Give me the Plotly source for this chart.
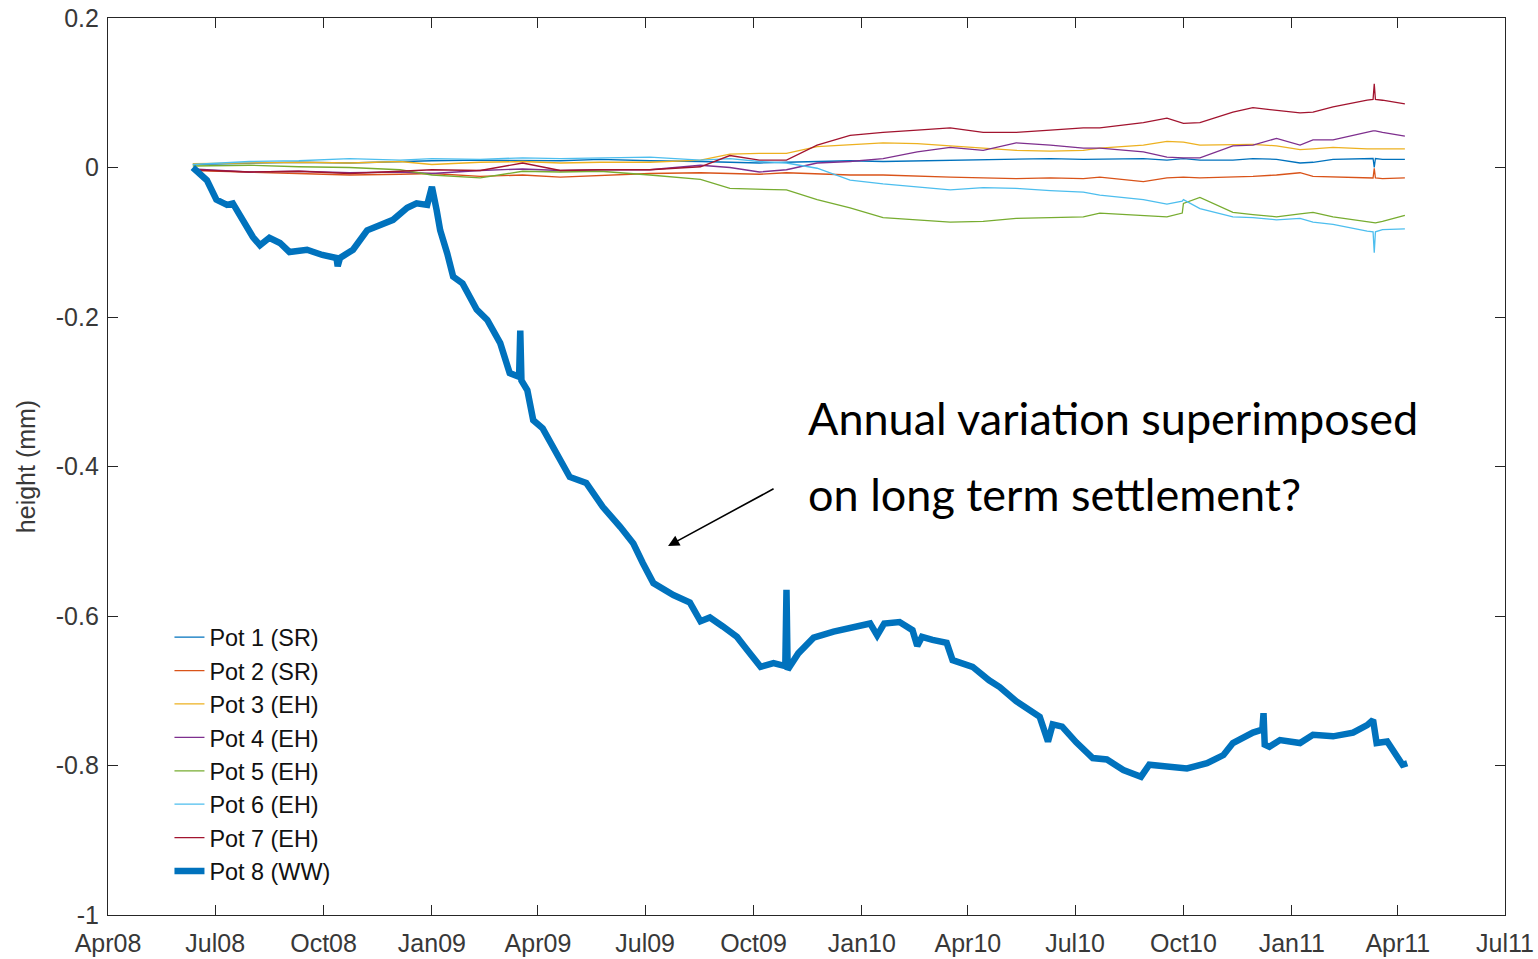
import plotly.graph_objects as go

# Sample dates for the seven reference pots (1-7)
pot_dates = [
    "2008-06-12", "2008-07-30", "2008-09-10", "2008-10-23", "2008-12-05",
    "2009-01-01", "2009-02-11", "2009-03-19", "2009-04-20", "2009-05-24",
    "2009-07-05", "2009-08-17", "2009-09-11", "2009-10-06", "2009-10-29",
    "2009-11-24", "2009-12-22", "2010-01-19", "2010-02-17", "2010-03-17",
    "2010-04-14", "2010-05-12", "2010-06-10", "2010-07-08", "2010-07-22",
    "2010-08-28", "2010-09-17", "2010-09-30", "2010-10-01", "2010-10-15",
    "2010-11-12", "2010-11-29", "2010-12-19", "2011-01-08", "2011-01-19",
    "2011-02-05", "2011-03-06", "2011-03-11", "2011-03-12", "2011-03-13",
    "2011-03-19", "2011-04-07",
]

pot1 = [0.004, 0.006, 0.007, 0.006, 0.008, 0.009, 0.010, 0.010, 0.009, 0.011,
        0.009, 0.008, 0.007, 0.006, 0.007, 0.008, 0.009, 0.008, 0.009, 0.010,
        0.010, 0.011, 0.012, 0.011, 0.011, 0.012, 0.010, 0.012, 0.012, 0.010,
        0.010, 0.012, 0.011, 0.006, 0.007, 0.011, 0.012, 0.012, 0.000, 0.012,
        0.011, 0.011]
pot2 = [-0.004, -0.006, -0.008, -0.010, -0.009, -0.008, -0.012, -0.010, -0.013, -0.011,
        -0.008, -0.007, -0.008, -0.009, -0.007, -0.008, -0.010, -0.010, -0.012, -0.013,
        -0.014, -0.015, -0.014, -0.015, -0.013, -0.019, -0.014, -0.013, -0.013, -0.014,
        -0.013, -0.012, -0.010, -0.007, -0.012, -0.013, -0.014, -0.014, -0.001, -0.014,
        -0.015, -0.014]
pot3 = [0.005, 0.006, 0.007, 0.006, 0.008, 0.004, 0.007, 0.008, 0.006, 0.007,
        0.007, 0.010, 0.018, 0.019, 0.019, 0.028, 0.031, 0.033, 0.032, 0.029,
        0.027, 0.023, 0.022, 0.023, 0.026, 0.030, 0.035, 0.034, 0.034, 0.030,
        0.030, 0.031, 0.029, 0.024, 0.025, 0.027, 0.025, 0.025, 0.025, 0.025,
        0.024, 0.025]
pot4 = [-0.002, -0.006, -0.005, -0.007, -0.006, -0.008, -0.004, -0.002, -0.004, -0.003,
        -0.003, 0.003, 0.000, -0.006, -0.003, 0.006, 0.008, 0.012, 0.021, 0.027,
        0.023, 0.033, 0.030, 0.026, 0.026, 0.021, 0.014, 0.013, 0.013, 0.013,
        0.029, 0.030, 0.039, 0.030, 0.037, 0.037, 0.048, 0.049, 0.049, 0.049,
        0.047, 0.042]
pot5 = [0.002, 0.003, 0.001, 0.000, -0.003, -0.010, -0.014, -0.005, -0.006, -0.005,
        -0.010, -0.016, -0.028, -0.029, -0.030, -0.043, -0.054, -0.067, -0.070, -0.073,
        -0.072, -0.068, -0.067, -0.066, -0.061, -0.064, -0.066, -0.061, -0.048, -0.040,
        -0.060, -0.063, -0.066, -0.062, -0.060, -0.066, -0.072, -0.074, -0.074, -0.074,
        -0.072, -0.064]
pot6 = [0.004, 0.008, 0.009, 0.012, 0.010, 0.012, 0.011, 0.013, 0.012, 0.013,
        0.014, 0.010, 0.012, 0.008, 0.006, -0.001, -0.017, -0.022, -0.026, -0.030,
        -0.027, -0.028, -0.031, -0.033, -0.037, -0.043, -0.049, -0.045, -0.043, -0.055,
        -0.066, -0.067, -0.070, -0.068, -0.073, -0.076, -0.085, -0.086, -0.114, -0.086,
        -0.083, -0.082]
pot7 = [-0.003, -0.006, -0.005, -0.008, -0.005, -0.003, -0.004, 0.006, -0.004, -0.003,
        -0.003, 0.001, 0.016, 0.010, 0.010, 0.030, 0.043, 0.047, 0.050, 0.053,
        0.047, 0.047, 0.050, 0.053, 0.053, 0.060, 0.066, 0.060, 0.059, 0.060,
        0.074, 0.080, 0.077, 0.073, 0.074, 0.081, 0.090, 0.091, 0.112, 0.091,
        0.090, 0.085]

# Pot 8 (WW) record
pot8_dates = [
    "2008-06-12", "2008-06-24", "2008-07-02", "2008-07-11", "2008-07-16",
    "2008-07-24", "2008-08-02", "2008-08-08", "2008-08-16", "2008-08-25",
    "2008-09-02", "2008-09-17", "2008-09-30", "2008-10-12", "2008-10-13",
    "2008-10-15", "2008-10-26", "2008-11-07", "2008-11-18", "2008-11-29",
    "2008-12-11", "2008-12-19", "2008-12-28", "2009-01-01", "2009-01-05",
    "2009-01-08", "2009-01-14", "2009-01-19", "2009-01-27", "2009-02-08",
    "2009-02-17", "2009-02-28", "2009-03-08", "2009-03-16", "2009-03-17",
    "2009-03-18", "2009-03-23", "2009-03-28", "2009-04-05", "2009-04-17",
    "2009-04-28", "2009-05-12", "2009-05-26", "2009-06-10", "2009-06-21",
    "2009-06-29", "2009-07-08", "2009-07-25", "2009-08-08", "2009-08-17",
    "2009-08-25", "2009-09-05", "2009-09-17", "2009-09-26", "2009-10-07",
    "2009-10-18", "2009-10-28", "2009-10-29", "2009-10-30", "2009-11-08",
    "2009-11-21", "2009-12-08", "2009-12-25", "2010-01-08", "2010-01-14",
    "2010-01-20", "2010-02-02", "2010-02-13", "2010-02-17", "2010-02-21",
    "2010-03-02", "2010-03-14", "2010-03-19", "2010-04-05", "2010-04-19",
    "2010-04-28", "2010-05-12", "2010-06-01", "2010-06-08", "2010-06-12",
    "2010-06-20", "2010-07-02", "2010-07-16", "2010-07-28", "2010-08-11",
    "2010-08-26", "2010-09-02", "2010-09-18", "2010-10-04", "2010-10-21",
    "2010-11-04", "2010-11-12", "2010-11-29", "2010-12-07", "2010-12-08",
    "2010-12-09", "2010-12-13", "2010-12-22", "2011-01-08", "2011-01-19",
    "2011-02-05", "2011-02-22", "2011-03-06", "2011-03-11", "2011-03-14",
    "2011-03-23", "2011-03-31", "2011-04-05", "2011-04-09",
]
pot8 = [0.000, -0.017, -0.043, -0.050, -0.048,
        -0.070, -0.093, -0.104, -0.094, -0.101,
        -0.113, -0.110, -0.117, -0.121, -0.132,
        -0.121, -0.110, -0.084, -0.077, -0.070,
        -0.054, -0.048, -0.050, -0.026, -0.057,
        -0.084, -0.115, -0.146, -0.155, -0.190,
        -0.204, -0.235, -0.275, -0.280, -0.218,
        -0.285, -0.298, -0.338, -0.349, -0.382,
        -0.414, -0.422, -0.454, -0.481, -0.503,
        -0.529, -0.556, -0.572, -0.582, -0.607,
        -0.602, -0.614, -0.628, -0.646, -0.668,
        -0.663, -0.667, -0.565, -0.672, -0.650,
        -0.629, -0.621, -0.616, -0.610, -0.626,
        -0.610, -0.608, -0.619, -0.640, -0.628,
        -0.632, -0.636, -0.659, -0.668, -0.686,
        -0.695, -0.714, -0.735, -0.768, -0.745,
        -0.748, -0.769, -0.790, -0.792, -0.806,
        -0.815, -0.799, -0.802, -0.804, -0.797,
        -0.786, -0.770, -0.756, -0.752, -0.730,
        -0.772, -0.775, -0.766, -0.770, -0.759,
        -0.761, -0.756, -0.746, -0.739, -0.770,
        -0.768, -0.788, -0.799, -0.797]

series = [
    ("Pot 1 (SR)", pot_dates, pot1, "#0072BD", 1.3),
    ("Pot 2 (SR)", pot_dates, pot2, "#D95319", 1.3),
    ("Pot 3 (EH)", pot_dates, pot3, "#EDB120", 1.3),
    ("Pot 4 (EH)", pot_dates, pot4, "#7E2F8E", 1.3),
    ("Pot 5 (EH)", pot_dates, pot5, "#77AC30", 1.3),
    ("Pot 6 (EH)", pot_dates, pot6, "#4DBEEE", 1.3),
    ("Pot 7 (EH)", pot_dates, pot7, "#A2142F", 1.3),
    ("Pot 8 (WW)", pot8_dates, pot8, "#0072BD", 6.5),
]

tick_dates = ["2008-04-01", "2008-07-01", "2008-10-01", "2009-01-01", "2009-04-01",
              "2009-07-01", "2009-10-01", "2010-01-01", "2010-04-01", "2010-07-01",
              "2010-10-01", "2011-01-01", "2011-04-01", "2011-07-01"]
tick_labels = ["Apr08", "Jul08", "Oct08", "Jan09", "Apr09", "Jul09", "Oct09",
               "Jan10", "Apr10", "Jul10", "Oct10", "Jan11", "Apr11", "Jul11"]
y_ticks = [-1, -0.8, -0.6, -0.4, -0.2, 0, 0.2]
y_labels = ["-1", "-0.8", "-0.6", "-0.4", "-0.2", "0", "0.2"]

fig = go.Figure()
for name, xs, ys, color, width in series:
    fig.add_trace(go.Scatter(x=xs, y=ys, mode="lines", name=name,
                             line=dict(color=color, width=width)))

axis_color = "#262626"
label_font = dict(family="Liberation Sans, Arial, sans-serif", size=25, color="#383838")

fig.update_layout(
    width=1538, height=959,
    margin=dict(l=108, r=33, t=18, b=44),
    paper_bgcolor="white", plot_bgcolor="white",
    showlegend=True,
    legend=dict(x=0.044, y=0.334, xanchor="left", yanchor="top",
                bgcolor="rgba(0,0,0,0)", borderwidth=0,
                font=dict(family="Liberation Sans, Arial, sans-serif", size=23.4, color="#111111")),
    hovermode=False,
    xaxis=dict(type="date", range=["2008-04-01", "2011-07-01"], automargin=False,
               tickmode="array", tickvals=tick_dates, ticktext=tick_labels,
               ticks="inside", ticklen=10, tickwidth=1.2, tickcolor=axis_color,
               showline=True, linecolor=axis_color, linewidth=1.2, mirror="ticks",
               showgrid=False, zeroline=False, tickfont=label_font,
               ticklabelstandoff=6),
    yaxis=dict(range=[-1, 0.2], automargin=False,
               tickmode="array", tickvals=y_ticks, ticktext=y_labels,
               ticks="inside", ticklen=10, tickwidth=1.2, tickcolor=axis_color,
               showline=True, linecolor=axis_color, linewidth=1.2, mirror="ticks",
               showgrid=False, zeroline=False, tickfont=label_font,
               ticklabelstandoff=3,
               title=dict(text="height (mm)", font=label_font, standoff=13)),
)

# Arrow pointing at the Pot 8 record
fig.add_annotation(x=0.4009, y=0.4114, xref="paper", yref="paper",
                   ax=107, ay=-58, axref="pixel", ayref="pixel",
                   showarrow=True, arrowhead=2, arrowsize=1.4, arrowwidth=1.6,
                   arrowcolor="black", text="")

note_font = dict(family="Lato, Open Sans, sans-serif", size=45, color="black")
fig.add_annotation(x=0.4996, y=0.554, xref="paper", yref="paper",
                   xanchor="left", yanchor="middle", showarrow=False,
                   text="Annual variation superimposed", font=note_font)
fig.add_annotation(x=0.4996, y=0.469, xref="paper", yref="paper",
                   xanchor="left", yanchor="middle", showarrow=False,
                   text="on long term settlement?", font=note_font)

fig.write_html("out.html")
